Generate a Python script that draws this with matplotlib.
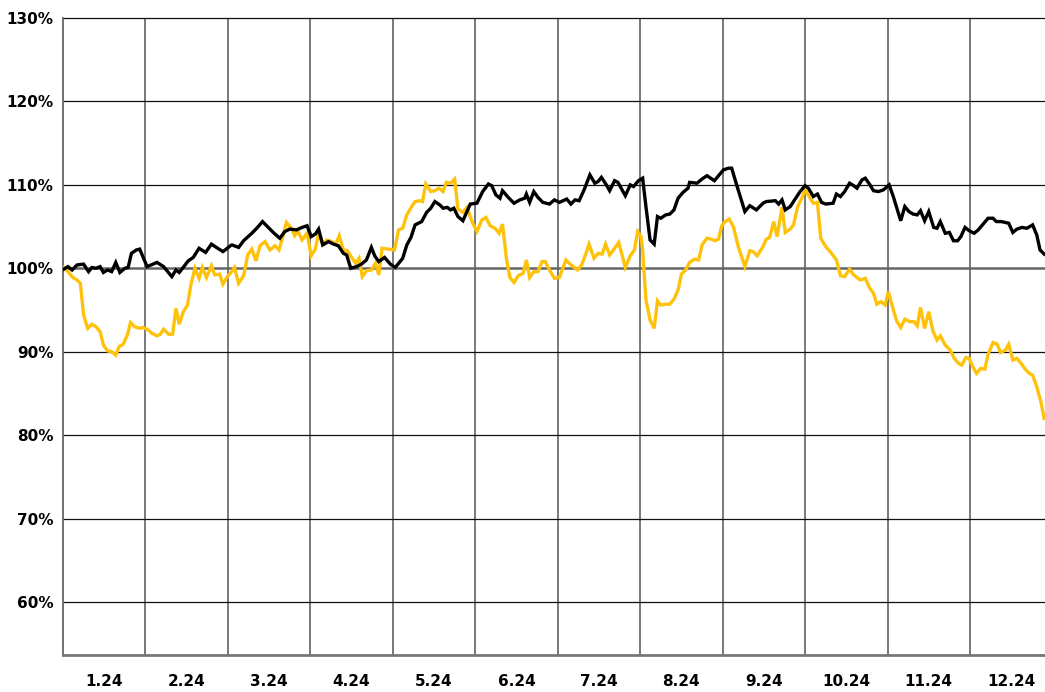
import numpy as np
import matplotlib.pyplot as plt
from matplotlib.ticker import FixedLocator, FixedFormatter

# positions in months since 1.1.2024, values in % of start level
black_t = [0.01, 0.06, 0.11, 0.17, 0.25, 0.31, 0.35, 0.40, 0.45, 0.49, 0.54, 0.59, 0.64, 0.69, 0.75, 0.79,
           0.83, 0.89, 0.93, 1.02, 1.14, 1.22, 1.32, 1.37, 1.41, 1.52, 1.58, 1.65, 1.73, 1.80, 1.86, 1.94,
           2.03, 2.05, 2.13, 2.19, 2.29, 2.35, 2.42, 2.49, 2.56, 2.63, 2.69, 2.75, 2.83, 2.90, 2.96, 3.01,
           3.06, 3.10, 3.15, 3.22, 3.28, 3.34, 3.40, 3.44, 3.49, 3.56, 3.62, 3.68, 3.74, 3.78, 3.83, 3.90,
           3.97, 4.03, 4.12, 4.17, 4.22, 4.27, 4.35, 4.41, 4.46, 4.51, 4.57, 4.61, 4.66, 4.70, 4.74, 4.79,
           4.85, 4.90, 4.94, 5.02, 5.09, 5.16, 5.20, 5.25, 5.30, 5.33, 5.40, 5.47, 5.54, 5.60, 5.62, 5.66,
           5.71, 5.76, 5.82, 5.90, 5.96, 6.02, 6.11, 6.16, 6.21, 6.26, 6.32, 6.39, 6.45, 6.49, 6.53, 6.59,
           6.63, 6.69, 6.73, 6.82, 6.88, 6.92, 6.98, 7.03, 7.07, 7.12, 7.17, 7.21, 7.25, 7.31, 7.36, 7.41,
           7.46, 7.52, 7.58, 7.60, 7.69, 7.75, 7.81, 7.90, 7.95, 8.01, 8.07, 8.11, 8.17, 8.22, 8.27, 8.33,
           8.41, 8.49, 8.53, 8.64, 8.68, 8.72, 8.76, 8.82, 8.88, 8.94, 9.00, 9.04, 9.10, 9.15, 9.20, 9.25,
           9.34, 9.38, 9.43, 9.48, 9.54, 9.59, 9.63, 9.69, 9.73, 9.78, 9.83, 9.89, 9.95, 10.02, 10.07, 10.12,
           10.16, 10.21, 10.26, 10.31, 10.36, 10.40, 10.45, 10.50, 10.56, 10.60, 10.64, 10.70, 10.75, 10.80,
           10.85, 10.89, 10.94, 10.99, 11.05, 11.10, 11.16, 11.22, 11.28, 11.32, 11.38, 11.47, 11.52, 11.57,
           11.63, 11.69, 11.76, 11.81, 11.85, 11.90]
black_v = [99.9, 100.2, 99.8, 100.4, 100.5, 99.6, 100.1, 100.0, 100.2, 99.5, 99.8, 99.6, 100.7, 99.5, 100.0, 100.1,
           101.8, 102.2, 102.3, 100.2, 100.7, 100.2, 99.0, 99.8, 99.5, 100.9, 101.3, 102.4, 101.9, 102.9, 102.5, 102.0,
           102.7, 102.8, 102.5, 103.3, 104.2, 104.8, 105.6, 104.9, 104.2, 103.6, 104.4, 104.7, 104.6, 104.9, 105.1, 103.8,
           104.1, 104.7, 102.8, 103.2, 102.9, 102.7, 101.8, 101.6, 100.0, 100.2, 100.5, 101.0, 102.5, 101.5, 100.8, 101.3,
           100.5, 100.1, 101.2, 102.8, 103.7, 105.2, 105.6, 106.7, 107.2, 108.0, 107.6, 107.2, 107.3, 107.0, 107.2, 106.2,
           105.7, 106.8, 107.7, 107.8, 109.2, 110.1, 109.9, 108.8, 108.4, 109.3, 108.5, 107.8, 108.2, 108.4, 108.9, 107.9,
           109.2, 108.5, 107.9, 107.7, 108.2, 107.9, 108.3, 107.7, 108.2, 108.1, 109.4, 111.2, 110.2, 110.4, 110.9, 110.0,
           109.3, 110.5, 110.3, 108.7, 110.0, 109.8, 110.5, 110.8, 107.4, 103.4, 102.9, 106.2, 106.0, 106.4, 106.5, 107.0,
           108.4, 109.1, 109.6, 110.3, 110.2, 110.7, 111.1, 110.5, 111.1, 111.8, 112.0, 112.0, 110.0, 108.4, 106.8, 107.5,
           107.0, 107.8, 108.0, 108.1, 107.7, 108.2, 107.0, 107.4, 108.3, 109.2, 109.9, 109.6, 108.6, 108.9, 107.9, 107.7,
           107.8, 108.9, 108.6, 109.2, 110.2, 109.9, 109.6, 110.6, 110.8, 110.1, 109.3, 109.2, 109.4, 110.0, 108.6, 107.0,
           105.7, 107.4, 106.8, 106.5, 106.4, 106.9, 105.7, 106.8, 104.9, 104.8, 105.6, 104.2, 104.3, 103.3,
           103.3, 103.8, 104.9, 104.5, 104.2, 104.6, 105.3, 106.0, 106.0, 105.6, 105.6, 105.4, 104.3, 104.7,
           104.9, 104.8, 105.2, 104.0, 102.2, 101.7]

yellow_t = [0.01, 0.06, 0.12, 0.17, 0.21, 0.25, 0.30, 0.35, 0.40, 0.45, 0.49, 0.54, 0.59, 0.64, 0.68, 0.73,
            0.78, 0.82, 0.87, 0.93, 0.97, 1.02, 1.08, 1.14, 1.18, 1.22, 1.28, 1.33, 1.37, 1.41, 1.46, 1.51,
            1.55, 1.60, 1.65, 1.69, 1.74, 1.80, 1.84, 1.90, 1.94, 2.00, 2.03, 2.08, 2.13, 2.19, 2.24, 2.29,
            2.34, 2.39, 2.45, 2.51, 2.57, 2.62, 2.66, 2.71, 2.77, 2.81, 2.85, 2.90, 2.96, 3.01, 3.06, 3.10,
            3.15, 3.20, 3.26, 3.31, 3.35, 3.40, 3.45, 3.50, 3.55, 3.59, 3.63, 3.68, 3.74, 3.79, 3.83, 3.87,
            3.95, 4.02, 4.07, 4.12, 4.17, 4.23, 4.27, 4.33, 4.36, 4.40, 4.46, 4.51, 4.56, 4.61, 4.65, 4.70,
            4.75, 4.79, 4.85, 4.90, 4.96, 5.02, 5.08, 5.13, 5.18, 5.24, 5.29, 5.33, 5.38, 5.42, 5.47, 5.52,
            5.58, 5.62, 5.66, 5.71, 5.76, 5.81, 5.85, 5.90, 5.96, 6.02, 6.10, 6.15, 6.24, 6.29, 6.34, 6.38,
            6.44, 6.49, 6.54, 6.58, 6.63, 6.69, 6.74, 6.82, 6.88, 6.93, 6.97, 7.01, 7.03, 7.07, 7.12, 7.17,
            7.21, 7.25, 7.31, 7.36, 7.41, 7.46, 7.50, 7.55, 7.60, 7.66, 7.71, 7.75, 7.81, 7.86, 7.91, 7.95,
            7.99, 8.02, 8.08, 8.13, 8.19, 8.27, 8.33, 8.37, 8.42, 8.49, 8.53, 8.57, 8.62, 8.66, 8.72, 8.76,
            8.82, 8.86, 8.91, 8.96, 9.00, 9.05, 9.10, 9.15, 9.19, 9.25, 9.32, 9.38, 9.43, 9.48, 9.54, 9.59,
            9.67, 9.73, 9.78, 9.83, 9.87, 9.92, 9.97, 10.01, 10.06, 10.11, 10.16, 10.21, 10.27, 10.32, 10.36,
            10.40, 10.45, 10.50, 10.55, 10.60, 10.64, 10.70, 10.76, 10.81, 10.86, 10.90, 10.95, 10.99, 11.04,
            11.08, 11.13, 11.18, 11.22, 11.28, 11.33, 11.37, 11.43, 11.47, 11.52, 11.57, 11.62, 11.67, 11.72,
            11.76, 11.81, 11.86, 11.90]
yellow_v = [100.1, 99.6, 98.9, 98.6, 98.2, 94.4, 92.8, 93.3, 93.0, 92.4, 90.8, 90.1, 90.0, 89.6, 90.6, 90.9,
            92.0, 93.5, 93.0, 92.8, 92.9, 92.7, 92.2, 91.9, 92.1, 92.7, 92.1, 92.1, 95.2, 93.3, 94.8, 95.6,
            98.0, 100.0, 98.8, 100.1, 98.9, 100.3, 99.2, 99.3, 98.1, 99.1, 99.4, 100.1, 98.2, 99.1, 101.6, 102.3,
            100.9, 102.7, 103.2, 102.2, 102.7, 102.2, 103.6, 105.5, 104.8, 103.9, 104.4, 103.4, 104.2, 101.5, 102.3, 104.2,
            102.9, 103.4, 103.2, 102.9, 103.9, 102.2, 102.1, 101.3, 100.6, 101.2, 99.0, 99.7, 99.8, 100.6, 99.2, 102.4,
            102.3, 102.2, 104.6, 104.8, 106.4, 107.4, 108.0, 108.1, 108.0, 110.1, 109.2, 109.3, 109.6, 109.2, 110.3, 110.2,
            110.7, 107.1, 106.7, 107.3, 105.6, 104.4, 105.8, 106.1, 105.1, 104.8, 104.2, 105.3, 101.0, 98.9, 98.3, 99.1,
            99.4, 101.0, 98.9, 99.6, 99.6, 100.8, 100.8, 99.8, 98.8, 98.9, 101.0, 100.5, 99.8, 100.4, 101.7, 102.9,
            101.2, 101.8, 101.7, 102.9, 101.6, 102.4, 103.1, 100.1, 101.5, 102.2, 104.4, 103.8, 102.2, 96.2, 93.8, 92.8,
            96.1, 95.6, 95.7, 95.7, 96.3, 97.4, 99.3, 99.8, 100.7, 101.1, 101.0, 102.8, 103.6, 103.5, 103.3, 103.5,
            105.1, 105.5, 105.9, 105.0, 102.6, 100.2, 102.1, 102.0, 101.5, 102.6, 103.5, 103.7, 105.6, 103.8, 107.3, 104.3,
            104.7, 105.2, 107.4, 108.4, 109.4, 108.6, 107.8, 107.9, 103.6, 102.6, 101.8, 101.0, 99.1, 99.0, 99.9, 99.2,
            98.6, 98.8, 97.7, 97.0, 95.7, 96.0, 95.6, 97.2, 95.4, 93.7, 92.9, 93.9, 93.6, 93.6, 93.1,
            95.3, 92.8, 94.8, 92.5, 91.4, 91.9, 90.8, 90.2, 89.2, 88.6, 88.4, 89.3, 89.2, 88.1,
            87.4, 88.0, 87.9, 89.7, 91.1, 90.9, 89.9, 90.2, 90.9, 89.0, 89.2, 88.6, 87.9, 87.4,
            87.2, 85.8, 84.0, 82.0]

month_labels = ['1.24', '2.24', '3.24', '4.24', '5.24', '6.24',
                '7.24', '8.24', '9.24', '10.24', '11.24', '12.24']
y_ticks = [60, 70, 80, 90, 100, 110, 120, 130]

fig = plt.figure(figsize=(10.45, 6.92), dpi=100)
ax = fig.add_axes([63 / 1045, 37 / 692, 1 - 63 / 1045, 637 / 692])

ax.set_xlim(0, 11.91)
ax.set_ylim(53.65, 130)

# grid
for m in range(1, 12):
    ax.axvline(m, color='#555555', lw=1.1, zorder=1)
for v in y_ticks:
    if v == 100:
        ax.axhline(v, color='#666666', lw=1.8, zorder=1)
    else:
        ax.axhline(v, color='#111111', lw=0.9, zorder=1, clip_on=False)

ax.plot(yellow_t, yellow_v, color='#FFC20A', lw=2.4, zorder=3, solid_joinstyle='miter')
ax.plot(black_t, black_v, color='#000000', lw=2.4, zorder=4, solid_joinstyle='miter')

ax.set_yticks(y_ticks)
ax.set_yticklabels([f'{v}%' for v in y_ticks])
ax.xaxis.set_major_locator(FixedLocator([]))
ax.xaxis.set_minor_locator(FixedLocator(np.arange(12) + 0.5))
ax.xaxis.set_minor_formatter(FixedFormatter(month_labels))

ax.tick_params(axis='y', length=0, pad=7, labelsize=11)
ax.tick_params(axis='x', which='minor', length=0, pad=14, labelsize=11)
for lab in ax.get_yticklabels() + ax.get_xticklabels(minor=True):
    lab.set_fontweight('bold')

for s in ['top', 'right']:
    ax.spines[s].set_visible(False)
ax.spines['left'].set_color('#666666')
ax.spines['left'].set_linewidth(1.3)
ax.spines['bottom'].set_color('#777777')
ax.spines['bottom'].set_linewidth(2)

fig.savefig('out.png', dpi=100)
